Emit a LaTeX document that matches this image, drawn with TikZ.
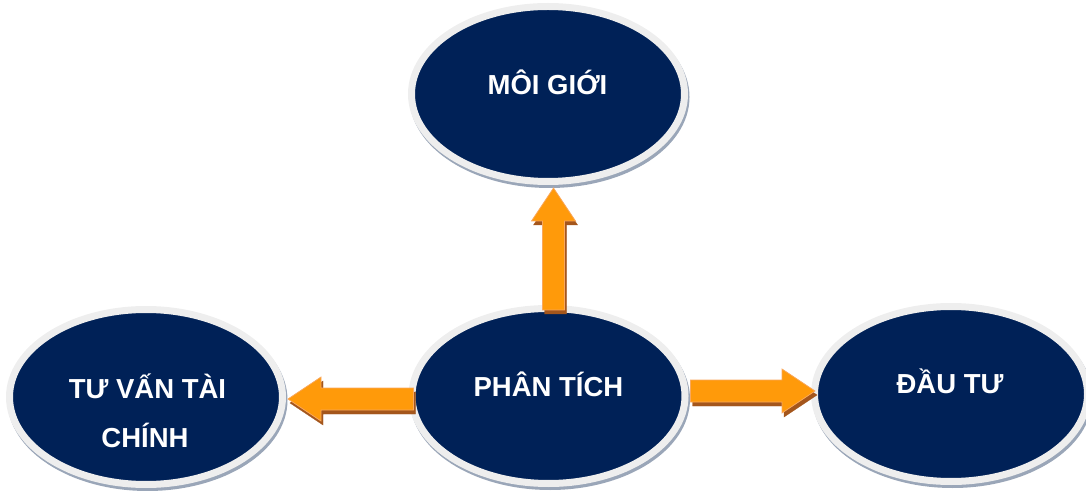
\documentclass[tikz,border=0pt]{standalone}
\usepackage{fontspec}
\setmainfont{Liberation Sans}
\usetikzlibrary{shapes.geometric,calc}
\definecolor{navy}{HTML}{002157}
\definecolor{rim}{HTML}{EEEEEE}
\definecolor{rimshadow}{HTML}{9AA6B8}
\definecolor{arrorange}{HTML}{FF9A0A}
\definecolor{arrborder}{HTML}{F9A85E}
\definecolor{arrshadow}{HTML}{A4561C}
\begin{document}
\begin{tikzpicture}[x=1pt,y=1pt,
  bubble/.style={ellipse, fill=navy, draw=rim, line width=7pt,
    minimum width=273pt, minimum height=175pt, inner sep=0pt,
    preaction={draw=rimshadow, line width=7pt,
      transform canvas={shift={(1.5pt,-3pt)}}}},
  bubbletext/.style={text=white, font=\fontsize{27.5}{30}\selectfont\bfseries,
    anchor=base, inner sep=0pt},
  barrow/.style={fill=arrorange, draw=arrborder, line width=0.8pt,
    preaction={fill=arrshadow, draw=arrshadow,
      transform canvas={shift={(2pt,-4pt)}}}}]
\useasboundingbox (0,0) rectangle (1086,490);

\node[bubble] (m) at (548,396) {};
\node[bubble] (p) at (548.5,94) {};
\node[bubble] (t) at (146,93) {};
\node[bubble] (d) at (951,96) {};

\node[bubbletext] (mt) at ([xshift=-0.5pt,yshift=-1pt]m.center) {MÔI GIỚI};
\node[bubbletext] (pt) at (p.center) {PHÂN TÍCH};
\node[bubbletext] (t1) at ([xshift=1.5pt,yshift=-1pt]t.center) {TƯ VẤN TÀI};
\node[bubbletext] (t2) at ([xshift=-1pt,yshift=-50pt]t.center) {CHÍNH};
\node[bubbletext] (dt) at ([xshift=-1pt,yshift=1pt]d.center) {ĐẦU TƯ};

% up arrow: PHÂN TÍCH -> MÔI GIỚI
\draw[barrow] let \p1=([xshift=5pt,yshift=-5pt]p.north), \p2=([xshift=5pt,yshift=-3pt]m.south) in
  (\x1-11pt,\y1) -- (\x1-11pt,\y2-33pt) -- (\x1-22pt,\y2-33pt) -- (\x1,\y2)
  -- (\x1+22pt,\y2-33pt) -- (\x1+11pt,\y2-33pt) -- (\x1+11pt,\y1) -- cycle;

% left arrow: PHÂN TÍCH -> TƯ VẤN TÀI CHÍNH
\draw[barrow] let \p1=([xshift=5pt,yshift=-3pt]p.west), \p2=([xshift=2pt]t.east) in
  (\x1,\y1-11pt) -- (\x2+33pt,\y1-11pt) -- (\x2+33pt,\y1-22pt) -- (\x2,\y1)
  -- (\x2+33pt,\y1+22pt) -- (\x2+33pt,\y1+11pt) -- (\x1,\y1+11pt) -- cycle;

% right arrow: PHÂN TÍCH -> ĐẦU TƯ
\draw[barrow] let \p1=([xshift=2pt,yshift=5pt]p.east), \p2=([xshift=4pt]d.west) in
  (\x1,\y1-11pt) -- (\x2-33pt,\y1-11pt) -- (\x2-33pt,\y1-22pt) -- (\x2,\y1)
  -- (\x2-33pt,\y1+22pt) -- (\x2-33pt,\y1+11pt) -- (\x1,\y1+11pt) -- cycle;
\end{tikzpicture}
\end{document}
